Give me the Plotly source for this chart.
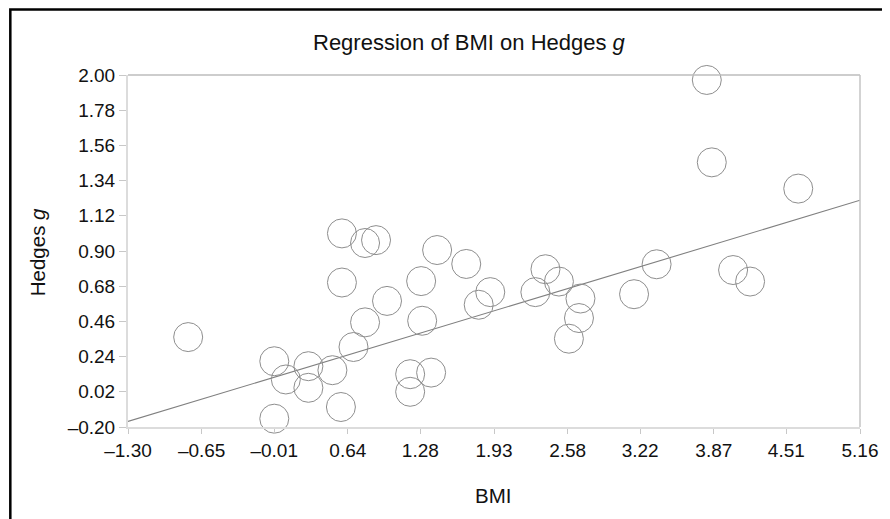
import plotly.graph_objects as go

# Data
bmi = [-0.769, -0.009, 0.093, 0.292, 0.292, -0.009, 0.504, 0.579, 0.588, 0.588,
       0.690, 0.792, 0.792, 0.889, 0.986, 1.190, 1.190, 1.375, 1.287, 1.296,
       1.428, 1.685, 1.795, 1.897, 2.295, 2.384, 2.503, 2.693, 2.680, 2.591,
       3.166, 3.365, 3.808, 3.852, 4.040, 4.190, 4.615]
hedges_g = [0.362, 0.211, 0.097, 0.180, 0.045, -0.148, 0.155, -0.075, 0.703, 1.010,
            0.300, 0.454, 0.950, 0.968, 0.588, 0.130, 0.020, 0.140, 0.712, 0.464,
            0.906, 0.819, 0.564, 0.643, 0.643, 0.786, 0.709, 0.603, 0.481, 0.352,
            0.630, 0.817, 1.969, 1.454, 0.781, 0.709, 1.290]

# Regression line coefficients
reg_slope = 0.214
reg_intercept = 0.113

x_ticks = [-1.30, -0.65, -0.01, 0.64, 1.28, 1.93, 2.58, 3.22, 3.87, 4.51, 5.16]
y_ticks = [-0.20, 0.02, 0.24, 0.46, 0.68, 0.90, 1.12, 1.34, 1.56, 1.78, 2.00]

def lab(v):
    s = f"{abs(v):.2f}"
    return ("\u2013" + s) if v < 0 else s

x_labels = [lab(v) for v in x_ticks]
y_labels = [lab(v) for v in y_ticks]

line_x = [x_ticks[0], x_ticks[-1]]
line_y = [reg_intercept + reg_slope * v for v in line_x]

OFF = 8  # page body margin
W, H = 890 - OFF, 519 - OFF
L, T = 128 - OFF, 75 - OFF
R = W - (862 - OFF)
B = H - (427 - OFF)
pw, ph = W - L - R, H - T - B

def px(xpage):
    return (xpage - OFF - L) / pw

def py(ypage):
    return (H - B - (ypage - OFF)) / ph

fig = go.Figure()
fig.add_trace(go.Scatter(
    x=line_x, y=line_y, mode="lines",
    line=dict(color="#808080", width=1.1), hoverinfo="skip", showlegend=False))
fig.add_trace(go.Scatter(
    x=bmi, y=hedges_g, mode="markers", cliponaxis=False,
    marker=dict(symbol="circle-open", size=29, color="#8e8e8e",
                line=dict(width=1.0, color="#8e8e8e")),
    showlegend=False))

FAM = "Liberation Sans, Arial, sans-serif"
tickfont = dict(family=FAM, size=19, color="#111111")
titlefont = dict(family=FAM, size=20.5, color="#111111")

fig.update_layout(
    width=W, height=H,
    margin=dict(l=L, r=R, t=T, b=B),
    paper_bgcolor="white", plot_bgcolor="white",
    font=tickfont,
    xaxis=dict(range=[x_ticks[0], x_ticks[-1]], tickvals=x_ticks, ticktext=x_labels,
               showgrid=False, zeroline=False, showline=True, linecolor="#dcdcdc",
               linewidth=2, ticks="outside", ticklen=5, tickcolor="#c8c8c8",
               tickwidth=1, tickfont=tickfont),
    yaxis=dict(range=[y_ticks[0], y_ticks[-1]], tickvals=y_ticks, ticktext=y_labels,
               showgrid=False, zeroline=False, showline=True, linecolor="#dcdcdc",
               linewidth=2, ticks="outside", ticklen=7, tickcolor="#c8c8c8",
               tickwidth=1, tickfont=tickfont),
    shapes=[
        dict(type="line", xref="paper", yref="paper", x0=0, x1=1, y0=1, y1=1,
             line=dict(color="#bdbdbd", width=1.5)),
        dict(type="line", xref="paper", yref="paper", x0=1, x1=1, y0=0, y1=1,
             line=dict(color="#c4c4c4", width=1.5)),
        dict(type="rect", xref="paper", yref="paper",
             x0=px(10), x1=px(900), y0=py(9.5), y1=py(530),
             line=dict(color="black", width=2.5)),
    ],
    annotations=[
        dict(text="Regression of BMI on Hedges <i>g</i>", xref="paper", yref="paper",
             x=px(470), y=py(42), showarrow=False, xanchor="center", yanchor="middle",
             font=dict(family=FAM, size=22, color="#111111")),
        dict(text="Hedges <i>g</i>", xref="paper", yref="paper", textangle=-90,
             x=px(37), y=py(252), showarrow=False, xanchor="center", yanchor="middle",
             font=titlefont),
        dict(text="BMI", xref="paper", yref="paper",
             x=px(494), y=py(495), showarrow=False, xanchor="center", yanchor="middle",
             font=titlefont),
    ],
)

fig.write_html("out.html")
